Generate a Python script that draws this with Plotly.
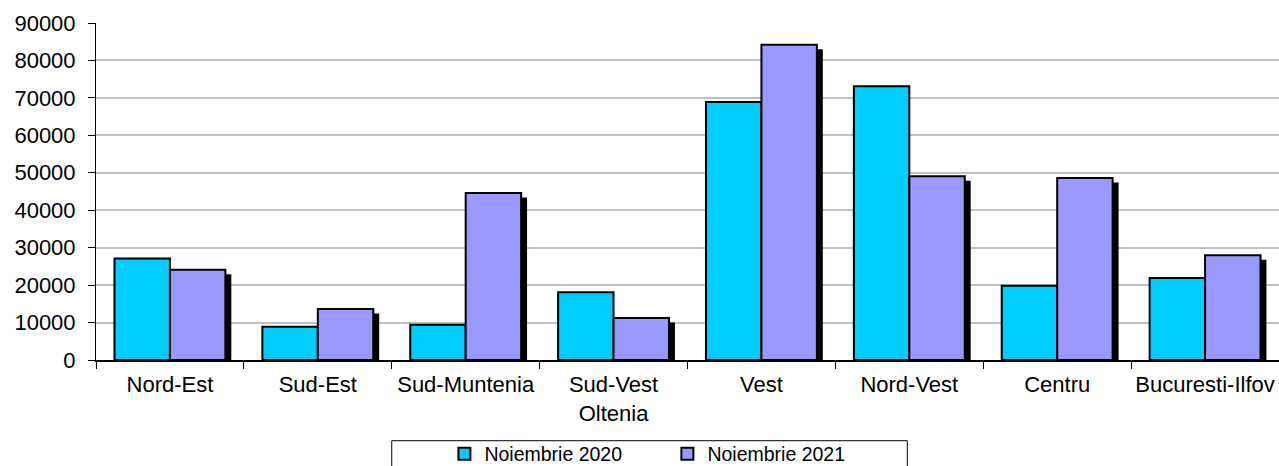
import plotly.graph_objects as go

categories = ["Nord-Est", "Sud-Est", "Sud-Muntenia", "Sud-Vest<br>Oltenia",
              "Vest", "Nord-Vest", "Centru", "Bucuresti-Ilfov"]
nov2020 = [27100, 8900, 9400, 18100, 68900, 73100, 19800, 21900]
nov2021 = [24100, 13600, 44600, 11200, 84200, 49100, 48600, 28000]
series_names = ["Noiembrie 2020", "Noiembrie 2021"]
y_ticks = [0, 10000, 20000, 30000, 40000, 50000, 60000, 70000, 80000, 90000]

FONT = "Liberation Sans, Arial, sans-serif"
C1 = "#00CCFF"
C2 = "#9999FF"
BAR_W = 0.375
SHADOW_DX = 0.04
SHADOW_DY = 1200

fig = go.Figure()
# shadow of the second series (style only)
fig.add_trace(go.Bar(x=categories, y=nov2021, base=-SHADOW_DY, offset=SHADOW_DX, width=BAR_W,
                     marker=dict(color="black", line=dict(width=0)),
                     showlegend=False, hoverinfo="skip"))
fig.add_trace(go.Bar(x=categories, y=nov2020, name=series_names[0], offset=-BAR_W, width=BAR_W,
                     marker=dict(color=C1, line=dict(color="black", width=2))))
fig.add_trace(go.Bar(x=categories, y=nov2021, name=series_names[1], offset=0, width=BAR_W,
                     marker=dict(color=C2, line=dict(color="black", width=2))))

fig.update_layout(
    width=1279, height=466,
    barmode="overlay",
    paper_bgcolor="white", plot_bgcolor="white",
    margin=dict(l=96, r=0, t=23, b=106, autoexpand=False),
    font=dict(family=FONT, size=22, color="black"),
    xaxis=dict(
        showline=True, linecolor="black", linewidth=2,
        ticks="outside", ticklen=7, tickwidth=1, tickcolor="black",
        tickson="boundaries", showgrid=False, tickangle=0,
        tickfont=dict(family=FONT, size=22, color="black"),
        ticklabelstandoff=4,
    ),
    yaxis=dict(
        range=[0, 90000], tickvals=y_ticks, tickformat="d",
        showline=True, linecolor="black", linewidth=1,
        ticks="outside", ticklen=7, tickwidth=1, tickcolor="black",
        showgrid=True, gridcolor="#C0C0C0", gridwidth=2, zeroline=False,
        tickfont=dict(family=FONT, size=22, color="black"),
        ticklabelstandoff=8,
    ),
    legend=dict(
        orientation="h", x=0.2945, xanchor="left", y=-0.221, yanchor="top",
        font=dict(family=FONT, size=19.5, color="black"),
        entrywidth=178, bgcolor="rgba(0,0,0,0)", borderwidth=0,
    ),
    shapes=[dict(type="rect", xref="paper", yref="paper",
                 x0=0.25, x1=0.6858, y0=-0.2395, y1=-0.6,
                 line=dict(color="black", width=1), fillcolor="rgba(0,0,0,0)",
                 layer="below")],
)

fig.write_html("out.html",
               config={"displayModeBar": False},
               post_script="document.body.style.margin='0';document.body.style.overflow='hidden';")
